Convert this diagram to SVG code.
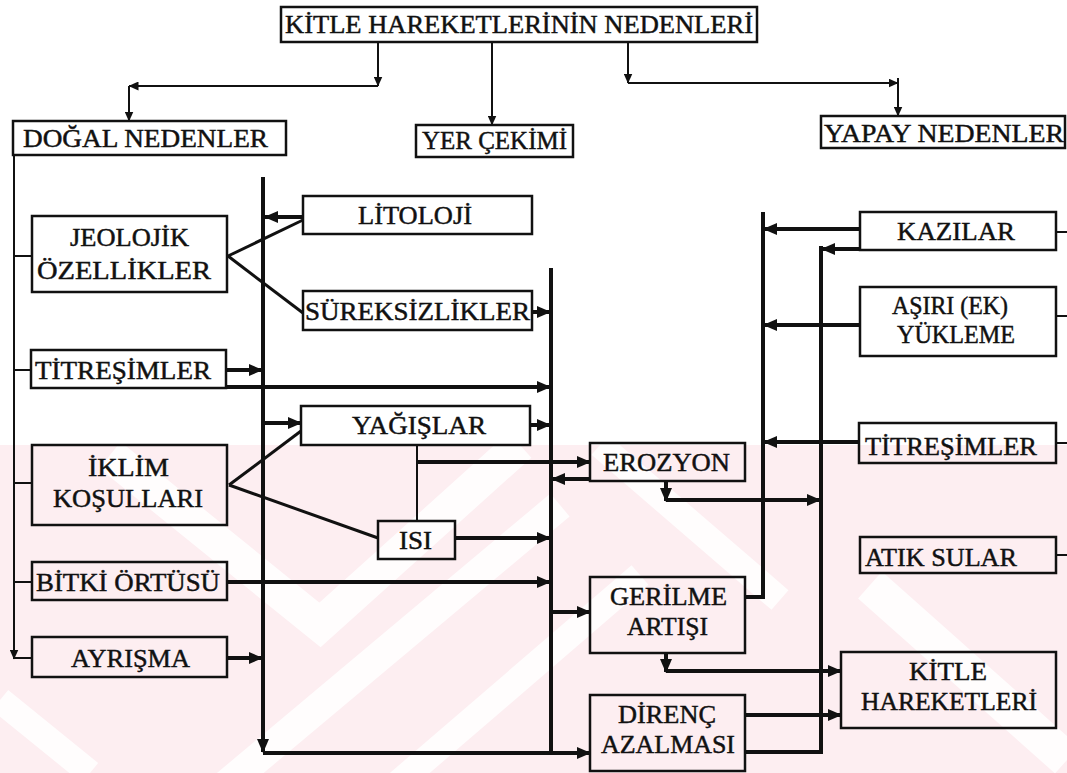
<svg xmlns="http://www.w3.org/2000/svg" width="1067" height="773" viewBox="0 0 1067 773">
<defs>
<marker id="ah" markerUnits="userSpaceOnUse" markerWidth="14" markerHeight="12" refX="13" refY="6" orient="auto" viewBox="0 0 14 12"><path d="M0,0 L14,6 L0,12 z" fill="#111"/></marker>
<marker id="as" markerUnits="userSpaceOnUse" markerWidth="10" markerHeight="9" refX="9.5" refY="4.5" orient="auto" viewBox="0 0 10 9"><path d="M0,0 L10,4.5 L0,9 z" fill="#111"/></marker>
<style>
.box{fill:none;stroke:#111;stroke-width:2.5}
.t{font-family:"Liberation Serif","Times New Roman",serif;font-size:25px;fill:#111;stroke:#111;stroke-width:0.45}
.thin{stroke:#111;stroke-width:2;fill:none}
.mid{stroke:#111;stroke-width:3;fill:none}
.thick{stroke:#111;stroke-width:4;fill:none}
.wm{stroke:#fff;fill:none;stroke-opacity:0.85}
</style>
</defs>
<rect width="1067" height="773" fill="#fff"/>
<g id="watermark">
<rect x="0" y="445" width="1067" height="328" fill="#fdeef1"/>
<path class="wm" stroke-width="34" d="M110,455 L320,625 L520,445"/>
<path class="wm" stroke-width="30" d="M220,790 L560,505"/>
<path class="wm" stroke-width="26" d="M390,790 L640,575"/>
<path class="wm" stroke-width="36" d="M870,585 L1067,760"/>
<path class="wm" stroke-width="26" d="M600,445 L780,600"/>
<path class="wm" stroke-width="26" d="M0,700 L90,773"/>
</g>
<g id="connectors">
<line class="thin" x1="378" y1="42" x2="378" y2="86" marker-end="url(#as)"/>
<line class="thin" x1="378" y1="86" x2="129" y2="86" marker-end="url(#as)"/>
<line class="thin" x1="129" y1="86" x2="129" y2="121" marker-end="url(#as)"/>
<line class="thin" x1="492" y1="42" x2="492" y2="125" marker-end="url(#as)"/>
<line class="thin" x1="628" y1="42" x2="628" y2="83" marker-end="url(#as)"/>
<line class="thin" x1="628" y1="83" x2="898" y2="83" marker-end="url(#as)"/>
<line class="thin" x1="898" y1="78" x2="898" y2="116" marker-end="url(#as)"/>
<path class="thin" d="M14,155 V659" marker-end="url(#as)"/>
<line class="thin" x1="14" y1="658" x2="32" y2="658"/>
<line class="thin" x1="14" y1="256" x2="32" y2="256"/>
<line class="thin" x1="14" y1="370" x2="31" y2="370"/>
<line class="thin" x1="14" y1="483" x2="32" y2="483"/>
<line class="thin" x1="14" y1="582" x2="32" y2="582"/>
<path class="thick" d="M263,177 V752" marker-end="url(#ah)"/>
<line class="thick" x1="263" y1="753" x2="590" y2="753" marker-end="url(#ah)"/>
<line class="thick" x1="551" y1="268" x2="551" y2="753"/>
<path class="thick" d="M763,212 V597 H745"/>
<line class="thick" x1="821" y1="246" x2="821" y2="752"/>
<line class="thick" x1="745" y1="752" x2="823" y2="752"/>
<line class="thick" x1="303" y1="217" x2="265" y2="217" marker-end="url(#ah)"/>
<line class="thick" x1="532" y1="312" x2="550" y2="312" marker-end="url(#ah)"/>
<line class="thick" x1="226" y1="370" x2="262" y2="370" marker-end="url(#ah)"/>
<line class="thick" x1="226" y1="387" x2="550" y2="387" marker-end="url(#ah)"/>
<line class="thick" x1="265" y1="423" x2="301" y2="423" marker-end="url(#ah)"/>
<line class="thick" x1="530" y1="425" x2="550" y2="425" marker-end="url(#ah)"/>
<line class="thick" x1="417" y1="462" x2="590" y2="462" marker-end="url(#ah)"/>
<line class="thick" x1="455" y1="538" x2="550" y2="538" marker-end="url(#ah)"/>
<line class="thick" x1="227" y1="582" x2="550" y2="582" marker-end="url(#ah)"/>
<line class="thick" x1="227" y1="658" x2="262" y2="658" marker-end="url(#ah)"/>
<line class="thick" x1="590" y1="479" x2="552" y2="479" marker-end="url(#ah)"/>
<line class="thick" x1="666" y1="481" x2="666" y2="501" marker-end="url(#ah)"/>
<line class="thick" x1="666" y1="500" x2="820" y2="500" marker-end="url(#ah)"/>
<line class="thick" x1="552" y1="612" x2="590" y2="612" marker-end="url(#ah)"/>
<line class="thick" x1="666" y1="653" x2="666" y2="672" marker-end="url(#ah)"/>
<line class="thick" x1="666" y1="671" x2="841" y2="671" marker-end="url(#ah)"/>
<line class="thick" x1="746" y1="715" x2="841" y2="715" marker-end="url(#ah)"/>
<line class="thick" x1="860" y1="229" x2="764" y2="229" marker-end="url(#ah)"/>
<line class="thick" x1="860" y1="249" x2="822" y2="249" marker-end="url(#ah)"/>
<line class="thick" x1="860" y1="325" x2="764" y2="325" marker-end="url(#ah)"/>
<line class="thick" x1="859" y1="442" x2="764" y2="442" marker-end="url(#ah)"/>
<line class="mid" x1="228" y1="256" x2="303" y2="220"/>
<line class="mid" x1="228" y1="256" x2="303" y2="313"/>
<line class="mid" x1="229" y1="485" x2="301" y2="431"/>
<line class="mid" x1="229" y1="485" x2="378" y2="538"/>
<line class="thin" x1="417" y1="445" x2="417" y2="521"/>
<line class="thin" x1="1056" y1="232" x2="1067" y2="232"/>
<line class="thin" x1="1056" y1="316" x2="1067" y2="316"/>
<line class="thin" x1="1056" y1="443" x2="1067" y2="443"/>
<line class="thin" x1="1056" y1="555" x2="1067" y2="555"/>
</g>
<g id="n-title"><rect class="box" x="281" y="7" width="476" height="35"/><text class="t" x="285" y="33" textLength="468" lengthAdjust="spacingAndGlyphs">KİTLE HAREKETLERİNİN NEDENLERİ</text></g>
<g id="n-dogal"><rect class="box" x="13" y="121" width="273" height="34"/><text class="t" x="23" y="147" textLength="245" lengthAdjust="spacingAndGlyphs">DOĞAL NEDENLER</text></g>
<g id="n-yer"><rect class="box" x="416" y="125" width="157" height="32"/><text class="t" x="422" y="149" textLength="145" lengthAdjust="spacingAndGlyphs">YER ÇEKİMİ</text></g>
<g id="n-yapay"><rect class="box" x="821" y="116" width="244" height="32"/><text class="t" x="824" y="142" textLength="240" lengthAdjust="spacingAndGlyphs">YAPAY NEDENLER</text></g>
<g id="n-litoloji"><rect class="box" x="303" y="196" width="229" height="38"/><text class="t" x="358" y="224" textLength="114" lengthAdjust="spacingAndGlyphs">LİTOLOJİ</text></g>
<g id="n-jeolojik"><rect class="box" x="32" y="216" width="195" height="76"/><text class="t" x="70" y="246" textLength="119" lengthAdjust="spacingAndGlyphs">JEOLOJİK</text><text class="t" x="37" y="279" textLength="174" lengthAdjust="spacingAndGlyphs">ÖZELLİKLER</text></g>
<g id="n-sureksiz"><rect class="box" x="303" y="291" width="229" height="39"/><text class="t" x="305" y="320" textLength="225" lengthAdjust="spacingAndGlyphs">SÜREKSİZLİKLER</text></g>
<g id="n-titresim-l"><rect class="box" x="31" y="350" width="195" height="38"/><text class="t" x="35" y="379" textLength="176" lengthAdjust="spacingAndGlyphs">TİTREŞİMLER</text></g>
<g id="n-yagislar"><rect class="box" x="301" y="406" width="229" height="39"/><text class="t" x="352" y="434" textLength="134" lengthAdjust="spacingAndGlyphs">YAĞIŞLAR</text></g>
<g id="n-iklim"><rect class="box" x="32" y="445" width="195" height="80"/><text class="t" x="88" y="476" textLength="81" lengthAdjust="spacingAndGlyphs">İKLİM</text><text class="t" x="53" y="507" textLength="150" lengthAdjust="spacingAndGlyphs">KOŞULLARI</text></g>
<g id="n-isi"><rect class="box" x="378" y="521" width="77" height="38"/><text class="t" x="399" y="549" textLength="33" lengthAdjust="spacingAndGlyphs">ISI</text></g>
<g id="n-bitki"><rect class="box" x="32" y="562" width="195" height="38"/><text class="t" x="36" y="591" textLength="184" lengthAdjust="spacingAndGlyphs">BİTKİ ÖRTÜSÜ</text></g>
<g id="n-ayrisma"><rect class="box" x="32" y="637" width="195" height="40"/><text class="t" x="71" y="667" textLength="119" lengthAdjust="spacingAndGlyphs">AYRIŞMA</text></g>
<g id="n-erozyon"><rect class="box" x="590" y="443" width="155" height="38"/><text class="t" x="603" y="471" textLength="127" lengthAdjust="spacingAndGlyphs">EROZYON</text></g>
<g id="n-gerilme"><rect class="box" x="590" y="577" width="155" height="76"/><text class="t" x="610" y="605" textLength="117" lengthAdjust="spacingAndGlyphs">GERİLME</text><text class="t" x="627" y="635" textLength="81" lengthAdjust="spacingAndGlyphs">ARTIŞI</text></g>
<g id="n-direnc"><rect class="box" x="590" y="695" width="155" height="76"/><text class="t" x="618" y="723" textLength="98" lengthAdjust="spacingAndGlyphs">DİRENÇ</text><text class="t" x="601" y="753" textLength="134" lengthAdjust="spacingAndGlyphs">AZALMASI</text></g>
<g id="n-kitle"><rect class="box" x="841" y="652" width="215" height="76"/><text class="t" x="909" y="680" textLength="78" lengthAdjust="spacingAndGlyphs">KİTLE</text><text class="t" x="861" y="710" textLength="176" lengthAdjust="spacingAndGlyphs">HAREKETLERİ</text></g>
<g id="n-kazilar"><rect class="box" x="860" y="212" width="196" height="38"/><text class="t" x="897" y="240" textLength="118" lengthAdjust="spacingAndGlyphs">KAZILAR</text></g>
<g id="n-asiri"><rect class="box" x="860" y="287" width="196" height="69"/><text class="t" x="892" y="314" textLength="116" lengthAdjust="spacingAndGlyphs">AŞIRI (EK)</text><text class="t" x="897" y="343" textLength="118" lengthAdjust="spacingAndGlyphs">YÜKLEME</text></g>
<g id="n-titresim-r"><rect class="box" x="859" y="423" width="197" height="40"/><text class="t" x="865" y="455" textLength="172" lengthAdjust="spacingAndGlyphs">TİTREŞİMLER</text></g>
<g id="n-atik"><rect class="box" x="860" y="537" width="196" height="36"/><text class="t" x="865" y="566" textLength="152" lengthAdjust="spacingAndGlyphs">ATIK SULAR</text></g>
</svg>
